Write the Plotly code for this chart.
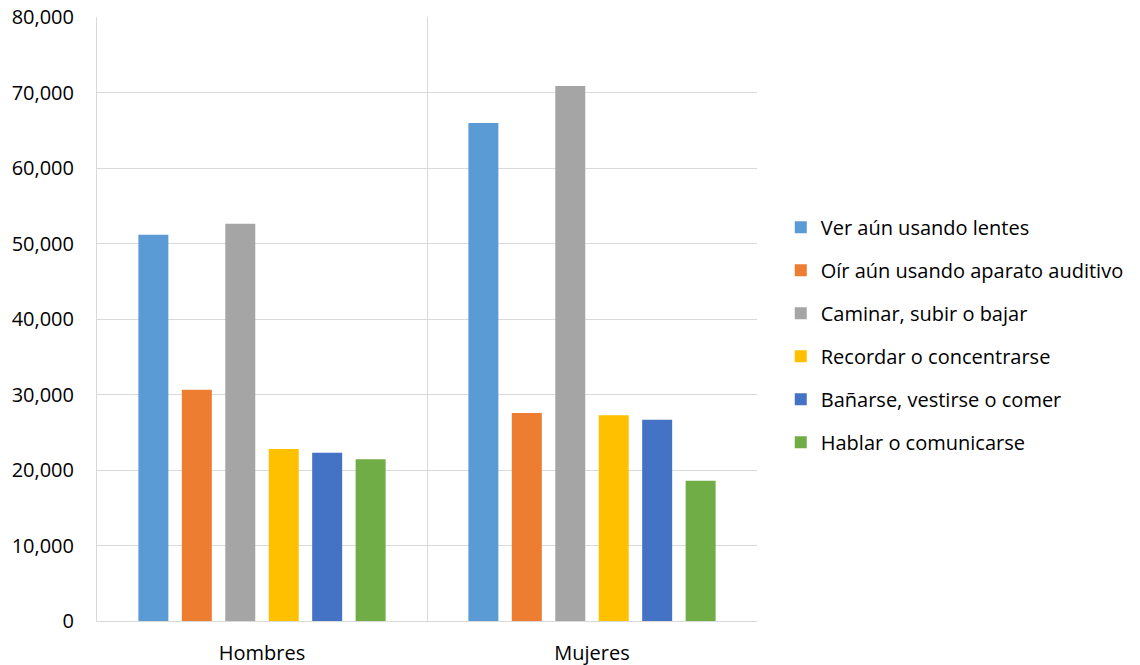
import plotly.graph_objects as go

# Datos
categorias = ["Hombres", "Mujeres"]
series = [
    "Ver aún usando lentes",
    "Oír aún usando aparato auditivo",
    "Caminar, subir o bajar",
    "Recordar o concentrarse",
    "Bañarse, vestirse o comer",
    "Hablar o comunicarse",
]
ver = [51170, 65980]
oir = [30660, 27560]
caminar = [52630, 70890]
recordar = [22790, 27250]
banarse = [22300, 26680]
hablar = [21420, 18590]
valores = [ver, oir, caminar, recordar, banarse, hablar]

colores = ["#5B9BD5", "#ED7D31", "#A5A5A5", "#FFC000", "#4472C4", "#70AD47"]

FUENTE = "'Open Sans', Lato, sans-serif"

fig = go.Figure()
for nombre, vals, color in zip(series, valores, colores):
    fig.add_trace(go.Bar(
        x=categorias,
        y=vals,
        name=nombre,
        legendgroup=nombre,
        marker=dict(color=color, line=dict(width=0)),
    ))

fig.update_layout(
    barmode="group",
    bargap=0.21,
    bargroupgap=0.31,
    width=1140,
    height=665,
    margin=dict(l=97, r=383, t=17, b=44, autoexpand=False),
    paper_bgcolor="white",
    plot_bgcolor="white",
    font=dict(family=FUENTE, size=20, color="#000000"),
    legend=dict(
        x=1.036, xanchor="left",
        y=0.474, yanchor="middle",
        font=dict(size=20),
        tracegroupgap=14,
        itemwidth=30,
        bgcolor="rgba(0,0,0,0)",
    ),
    xaxis=dict(
        type="category",
        tickson="boundaries",
        showgrid=True,
        gridcolor="#D9D9D9",
        gridwidth=1,
        ticks="",
        showline=True,
        linecolor="#D9D9D9",
        linewidth=1,
        ticklabelstandoff=14,
        tickfont=dict(size=20),
        range=[-0.5, 1.5],
    ),
    yaxis=dict(
        range=[0, 80040],
        tickvals=[0, 10000, 20000, 30000, 40000, 50000, 60000, 70000, 80000],
        tickformat=",d",
        showgrid=True,
        gridcolor="#D9D9D9",
        gridwidth=1,
        zeroline=False,
        showline=True,
        linecolor="#D9D9D9",
        linewidth=1,
        ticks="",
        ticklabelstandoff=18,
        ticklabeloverflow="allow",
        tickfont=dict(size=20),
    ),
)

# quitar el margen por defecto del cuerpo de la página
fig.write_html(
    "out.html",
    config={"displayModeBar": False},
    post_script="document.body.style.margin='0';",
)
